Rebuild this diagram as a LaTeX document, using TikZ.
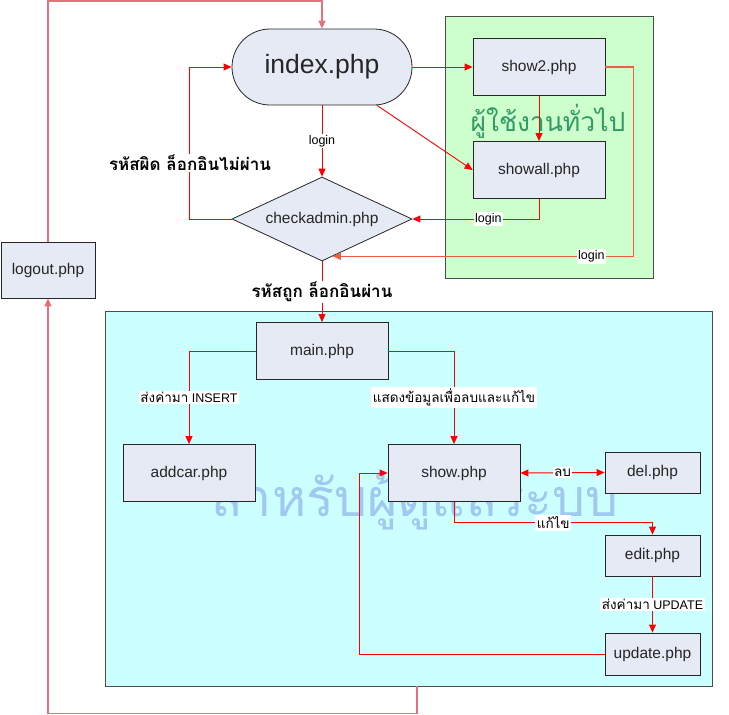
\documentclass[tikz,border=0pt]{standalone}
\usepackage{fontspec}
\setmainfont{Liberation Sans}
\newfontfamily\thai[Script=Thai]{Loma}
\usetikzlibrary{arrows.meta,shapes.geometric,shapes.misc,calc}
\definecolor{boxfill}{HTML}{E6EAF4}
\definecolor{greenpanel}{HTML}{CCFFCC}
\definecolor{cyanpanel}{HTML}{CCFFFF}
\definecolor{linered}{HTML}{FF0000}
\definecolor{outerred}{HTML}{E8707A}
\definecolor{loopred}{HTML}{E86040}
\definecolor{greentext}{HTML}{339966}
\definecolor{wmblue}{HTML}{A0C8F0}
\begin{document}
\begin{tikzpicture}[x=1pt,y=-1pt,
  page/.style={draw=black!85, fill=boxfill, line width=0.8pt, inner sep=0pt,
    font=\fontsize{15.5}{18}\selectfont, text=black!85},
  panel/.style={draw=black!70, line width=0.9pt, inner sep=0pt},
  tip/.tip={Triangle[length=8pt,width=7pt]},
  flow/.style={draw=linered, line width=0.9pt, -tip},
  outer/.style={draw=outerred, line width=1.4pt, -tip},
  lbl/.style={fill=white, inner sep=1.5pt, font=\fontsize{12.5}{14}\selectfont},
  thlbl/.style={lbl, font=\thai\fontsize{13.5}{15}\selectfont},
  bigthai/.style={fill=white, inner sep=1pt, font=\thai\bfseries\fontsize{17}{20}\selectfont},
]
\useasboundingbox (0,0) rectangle (729,715);
% panels
\node[panel, fill=greenpanel, minimum width=208pt, minimum height=262pt] (gpanel) at (549,147) {};
\node[panel, fill=cyanpanel, minimum width=607pt, minimum height=375pt] (cpanel) at (408.5,498.5) {};
% watermark text
\node[text=wmblue, font=\thai\fontsize{52}{60}\selectfont] (wm) at (415,502) {สำหรับผู้ดูแลระบบ};
% nodes
\node[page, shape=rounded rectangle, minimum width=180pt, minimum height=76pt,
      font=\fontsize{26.5}{30}\selectfont] (index) at (322,67) {index.php};
\node[page, shape=diamond, aspect=2.14, minimum width=180pt, minimum height=84pt] (checkadmin) at (322,219) {checkadmin.php};
\node[page, minimum width=94pt, minimum height=56pt] (logout) at (48,270) {logout.php};
\node[page, minimum width=132pt, minimum height=57pt] (show2) at (539,67) {show2.php};
\node[page, minimum width=132pt, minimum height=57pt] (showall) at (539,170) {showall.php};
\node[page, minimum width=132pt, minimum height=57pt] (main) at (322,351) {main.php};
\node[page, minimum width=132pt, minimum height=57pt] (addcar) at (189,473) {addcar.php};
\node[page, minimum width=132pt, minimum height=57pt] (show) at (454,473) {show.php};
\node[page, minimum width=95pt, minimum height=41pt] (del) at (652.5,472.5) {del.php};
\node[page, minimum width=95pt, minimum height=41pt] (edit) at (652.5,555.5) {edit.php};
\node[page, minimum width=95pt, minimum height=42pt] (update) at (652.5,654) {update.php};
\node[text=greentext, font=\thai\fontsize{26.5}{30}\selectfont] (gtext) at (548,121) {ผู้ใช้งานทั่วไป};
\coordinate (cain) at ($(checkadmin.south)!0.12!(checkadmin.east)$);
% edges
\draw[outer] ([xshift=8.5pt]cpanel.south) -- ++(0,27) -| (logout.south);
\draw[outer] (logout.north) -- ++(0,-240.5) -| (index.north);
\draw[flow] (index.east) -- (show2.west);
\draw[flow] ([xshift=55pt]index.south) -- (showall.west);
\draw[flow] (show2.south) -- (showall.north);
\draw[flow] (index.south) -- node[lbl]{login} (checkadmin.north);
\draw[flow] (checkadmin.west) -- ++(-42,0) |- (index.west);
\node[bigthai] (wrong) at (190,163) {รหัสผิด ล็อกอินไม่ผ่าน};
\draw[flow] (showall.south) |- node[lbl,pos=0.7]{login} (checkadmin.east);
\draw[draw=loopred, line width=1.3pt, -tip] (show2.east) -- ++(28,0) |- node[lbl,pos=0.57]{login} (cain);
\draw[flow] (checkadmin.south) -- node[bigthai]{รหัสถูก ล็อกอินผ่าน} (main.north);
\draw[flow] (main.west) -| node[lbl,pos=0.75]{{\thai\fontsize{13.5}{15}\selectfont ส่งค่ามา} INSERT} (addcar.north);
\draw[flow] (main.east) -| node[thlbl,pos=0.75]{แสดงข้อมูลเพื่อลบและแก้ไข} (show.north);
\draw[flow, tip-tip] (show.east) -- node[thlbl]{ลบ} (del.west);
\draw[flow] (show.south) -- ++(0,21) -| node[thlbl,pos=0.25]{แก้ไข} (edit.north);
\draw[flow] (edit.south) -- node[lbl]{{\thai\fontsize{13.5}{15}\selectfont ส่งค่ามา} UPDATE} (update.north);
\draw[flow] (update.west) -- ++(-245,0) |- (show.west);
\end{tikzpicture}
\end{document}
